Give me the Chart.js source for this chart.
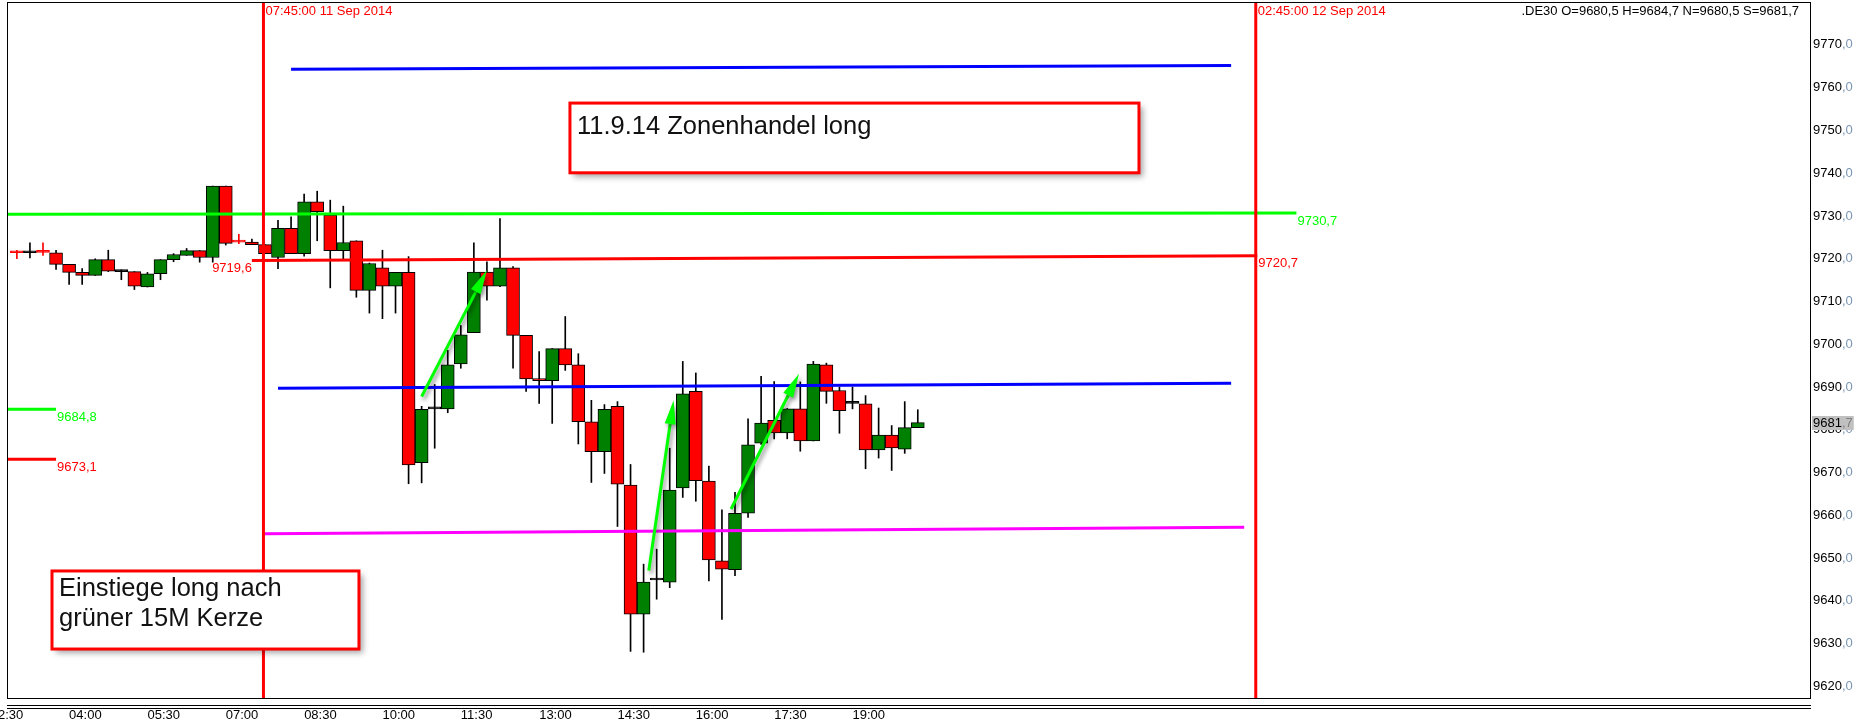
<!DOCTYPE html>
<html>
<head>
<meta charset="utf-8">
<title>DE30 M15</title>
<script src="https://cdn.jsdelivr.net/npm/chart.js@4.4.1/dist/chart.umd.min.js"></script>
<style>
  html, body { margin: 0; padding: 0; background: #fff; }
  #wrap { width: 1857px; height: 726px; }
</style>
</head>
<body>
<div id="wrap"><canvas id="chart" width="1857" height="726"></canvas></div>
<script>
'use strict';

// ---- data: .DE30 M15, 11 Sep 2014 ----
const times = ['03:00','03:15','03:30','03:45','04:00','04:15','04:30','04:45','05:00','05:15',
  '05:30','05:45','06:00','06:15','06:30','06:45','07:00','07:15','07:30','07:45',
  '08:00','08:15','08:30','08:45','09:00','09:15','09:30','09:45','10:00','10:15',
  '10:30','10:45','11:00','11:15','11:30','11:45','12:00','12:15','12:30','12:45',
  '13:00','13:15','13:30','13:45','14:00','14:15','14:30','14:45','15:00','15:15',
  '15:30','15:45','16:00','16:15','16:30','16:45','17:00','17:15','17:30','17:45',
  '18:00','18:15','18:30','18:45','19:00','19:15','19:30','19:45','20:00','20:15'];
const opens = [9721.5,9721.4,9721.6,9721.4,9718.7,9716.8,9716.1,9719.8,9717.0,9717.0,
  9713.4,9716.5,9719.8,9720.8,9721.9,9720.3,9737.0,9724.0,9723.9,9723.3,
  9720.3,9727.1,9721.2,9733.3,9730.2,9721.9,9724.2,9712.6,9717.9,9713.6,
  9716.8,9672.3,9684.9,9684.9,9695.4,9702.7,9716.9,9713.6,9717.9,9702.1,
  9691.9,9691.5,9699.0,9695.2,9681.9,9674.9,9685.5,9667.1,9636.9,9644.9,
  9644.4,9666.4,9689.0,9668.0,9649.4,9647.3,9660.5,9676.9,9682.2,9679.3,
  9684.9,9677.4,9695.2,9689.2,9686.2,9686.1,9675.3,9678.8,9675.5,9680.5];
const highs = [9722.0,9723.7,9723.7,9722.0,9718.7,9717.7,9720.0,9722.0,9717.4,9717.0,
  9716.8,9719.8,9721.2,9722.4,9721.9,9737.0,9737.0,9725.7,9724.6,9723.3,
  9729.0,9729.8,9735.1,9735.8,9733.7,9732.3,9724.2,9719.0,9722.0,9716.8,
  9720.5,9685.5,9690.6,9698.6,9704.4,9723.7,9719.3,9729.4,9718.2,9702.1,
  9698.3,9699.0,9706.5,9697.8,9686.9,9685.9,9686.6,9671.9,9648.6,9652.1,
  9675.7,9696.0,9693.3,9671.5,9661.3,9665.4,9682.6,9692.5,9691.3,9685.0,
  9691.2,9696.0,9695.6,9690.0,9690.0,9688.0,9685.1,9681.0,9686.6,9684.7];
const lows = [9720.0,9720.2,9720.8,9717.5,9714.0,9714.0,9716.1,9717.0,9715.1,9712.8,
  9713.4,9715.1,9719.3,9720.8,9719.2,9719.2,9723.2,9723.5,9723.3,9721.2,
  9717.7,9721.2,9720.6,9724.2,9713.2,9719.6,9711.0,9707.3,9706.0,9707.3,
  9667.4,9667.6,9675.7,9684.0,9694.4,9702.7,9710.3,9713.5,9694.4,9689.0,
  9686.2,9681.5,9693.9,9676.7,9667.7,9669.8,9657.4,9628.2,9628.0,9640.4,
  9643.1,9664.2,9663.3,9644.7,9635.7,9645.9,9659.5,9676.6,9677.9,9677.9,
  9675.0,9677.4,9686.2,9679.2,9684.9,9670.9,9673.4,9670.5,9674.5,9680.5];
const closes = [9721.4,9721.4,9721.5,9718.7,9716.8,9716.1,9719.8,9717.1,9717.0,9713.6,
  9716.5,9719.8,9721.0,9721.9,9720.3,9737.0,9723.6,9723.9,9723.3,9721.2,
  9727.1,9721.2,9733.3,9731.0,9721.9,9723.8,9712.6,9718.9,9713.6,9716.8,
  9671.8,9684.8,9684.9,9695.2,9702.2,9716.9,9713.6,9717.9,9702.1,9691.9,
  9691.5,9699.0,9695.2,9681.9,9674.9,9684.8,9667.3,9636.9,9644.4,9644.9,
  9665.9,9688.4,9668.1,9649.6,9647.4,9660.5,9676.5,9681.6,9679.3,9684.9,
  9677.4,9695.4,9689.0,9684.5,9686.2,9675.3,9678.8,9675.8,9680.5,9681.7];

const timeTicks = ['02:30','04:00','05:30','07:00','08:30','10:00','11:30','13:00','14:30','16:00','17:30','19:00'];
const priceStep = 10;
const priceMin = 9617.3, priceMax = 9779.8;

// 15-minute slots counted from 00:00 of 11 Sep
function slotOf(hhmm, day) {
  const [h, m] = hhmm.split(':').map(Number);
  return (day || 0) * 96 + (h * 60 + m) / 15;
}
const fmt = v => v.toFixed(1).replace('.', ',');

// ---- drawn objects on the chart ----
const vMarks = [
  { at: ['07:45', 0], text: '07:45:00 11 Sep 2014' },
  { at: ['02:45', 1], text: '02:45:00 12 Sep 2014' }
];
const levels = [
  { color: '#0000ff', from: ['08:15', 0], p1: 9764.3, to: ['02:15', 1], p2: 9765.2 },
  { color: '#00ff00', from: ['00:00', 0], p1: 9730.4, to: ['03:30', 1], p2: 9730.7, endLabel: true },
  { color: '#ff0000', from: ['07:30', 0], p1: 9719.6, to: ['02:45', 1], p2: 9720.7, startLabel: true, endLabel: true },
  { color: '#0000ff', from: ['08:00', 0], p1: 9689.7, to: ['02:15', 1], p2: 9690.9 },
  { color: '#ff00ff', from: ['07:45', 0], p1: 9655.7, to: ['02:30', 1], p2: 9657.2 },
  { color: '#00ff00', from: ['00:00', 0], p1: 9684.8, to: ['03:45', 0], p2: 9684.8, endLabel: true },
  { color: '#ff0000', from: ['00:00', 0], p1: 9673.1, to: ['03:45', 0], p2: 9673.1, endLabel: true }
];
const arrows = [
  [43.0, 9687.8, 48.0, 9717.3],
  [60.4, 9647.1, 62.3, 9686.9],
  [66.7, 9661.5, 71.9, 9693.1]
];
const notes = [
  { lines: ['11.9.14 Zonenhandel long'], x1: 54.36, p1: 9756.4, x2: 97.94, p2: 9740.1, first: 24 },
  { lines: ['Einstiege long nach', 'grüner 15M Kerze'], x1: 14.69, p1: 9647.0, x2: 38.2, p2: 9628.75, first: 18 }
];

const SANS = '"Liberation Sans", Arial, sans-serif';
const SMALL = '13px ' + SANS;
const GREEN = '#008000', RED = '#ff0000';

const slots = times.map(t => slotOf(t));
const isDoji = i => Math.abs(opens[i] - closes[i]) < 0.15;
const bodyColor = i => closes[i] > opens[i] ? GREEN : (closes[i] < opens[i] ? RED : '#000');
const edgeColor = i => isDoji(i) ? bodyColor(i) : '#000';

function noPad(s) { s.paddingLeft = s.paddingRight = s.paddingTop = s.paddingBottom = 0; }

const overlay = {
  id: 'overlay',
  afterDatasetsDraw(chart) {
    const { ctx, chartArea: a, scales: { x, y } } = chart;
    ctx.save();
    ctx.beginPath();
    ctx.rect(a.left, a.top, a.right - a.left, a.bottom - a.top);
    ctx.clip();

    // level / trend lines
    ctx.lineWidth = 3;
    ctx.font = SMALL;
    levels.forEach(l => {
      const x1 = x.getPixelForValue(slotOf(...l.from)), x2 = x.getPixelForValue(slotOf(...l.to));
      const y1 = y.getPixelForValue(l.p1), y2 = y.getPixelForValue(l.p2);
      ctx.strokeStyle = l.color;
      ctx.beginPath(); ctx.moveTo(x1, y1); ctx.lineTo(x2, y2); ctx.stroke();
      ctx.fillStyle = l.color;
      ctx.textBaseline = 'top';
      if (l.startLabel) { ctx.textAlign = 'right'; ctx.fillText(fmt(l.p1), x1, y1 + 1.5); }
      if (l.endLabel) { ctx.textAlign = 'left'; ctx.fillText(fmt(l.p2), x2 + 1, y2 + 1.5); }
    });

    // vertical time marks
    vMarks.forEach(m => {
      const px = x.getPixelForValue(slotOf(...m.at)) - 1.5;
      ctx.strokeStyle = RED; ctx.lineWidth = 3;
      ctx.beginPath(); ctx.moveTo(px, a.top); ctx.lineTo(px, a.bottom); ctx.stroke();
      ctx.fillStyle = RED; ctx.textAlign = 'left'; ctx.textBaseline = 'top';
      ctx.fillText(m.text, px + 2, a.top + 2);
    });

    // arrows
    ctx.save();
    ctx.shadowColor = 'rgba(0,0,0,0.45)';
    ctx.shadowBlur = 4; ctx.shadowOffsetX = 2; ctx.shadowOffsetY = 3;
    ctx.strokeStyle = '#00ff00'; ctx.fillStyle = '#00ff00'; ctx.lineWidth = 3;
    arrows.forEach(([s1, v1, s2, v2]) => {
      const x1 = x.getPixelForValue(s1), y1 = y.getPixelForValue(v1);
      const x2 = x.getPixelForValue(s2), y2 = y.getPixelForValue(v2);
      const ang = Math.atan2(y2 - y1, x2 - x1);
      const hl = 24, hw = 5.5;
      const bx = x2 - hl * Math.cos(ang), by = y2 - hl * Math.sin(ang);
      ctx.beginPath(); ctx.moveTo(x1, y1); ctx.lineTo(bx, by); ctx.stroke();
      ctx.beginPath();
      ctx.moveTo(x2, y2);
      ctx.lineTo(bx + hw * Math.sin(ang), by - hw * Math.cos(ang));
      ctx.lineTo(bx - hw * Math.sin(ang), by + hw * Math.cos(ang));
      ctx.closePath(); ctx.fill();
    });
    ctx.restore();

    // text boxes
    notes.forEach(n => {
      const l = x.getPixelForValue(n.x1), r = x.getPixelForValue(n.x2);
      const t = y.getPixelForValue(n.p1), b = y.getPixelForValue(n.p2);
      ctx.save();
      ctx.shadowColor = 'rgba(0,0,0,0.35)';
      ctx.shadowBlur = 6; ctx.shadowOffsetX = 4; ctx.shadowOffsetY = 4;
      ctx.fillStyle = '#fff';
      ctx.fillRect(l, t, r - l, b - t);
      ctx.restore();
      ctx.strokeStyle = RED; ctx.lineWidth = 3;
      ctx.strokeRect(l, t, r - l, b - t);
      ctx.fillStyle = '#111';
      ctx.font = '25.5px ' + SANS;
      ctx.textAlign = 'left'; ctx.textBaseline = 'middle';
      n.lines.forEach((s, i) => ctx.fillText(s, l + 7, t + n.first + i * 29.6));
    });
    ctx.restore();
  },
  afterDraw(chart) {
    const { ctx, chartArea: a, scales: { y } } = chart;
    ctx.save();
    // frame and separators
    ctx.strokeStyle = '#000'; ctx.lineWidth = 1;
    ctx.strokeRect(Math.round(a.left) - 0.5, Math.round(a.top) - 0.5, Math.round(a.right - a.left), Math.round(a.bottom - a.top) + 1);
    [7.5, 10.5].forEach(d => {
      ctx.beginPath(); ctx.moveTo(a.left - 1, a.bottom + d); ctx.lineTo(a.right, a.bottom + d); ctx.stroke();
    });
    // decimals on price labels
    ctx.font = SMALL;
    ctx.textBaseline = 'middle'; ctx.textAlign = 'left';
    const lx = y.left + 2;
    y.ticks.forEach(t => {
      const py = y.getPixelForValue(t.value);
      const w = ctx.measureText(String(t.value)).width;
      ctx.fillStyle = '#7a96b4';
      ctx.fillText(',0', lx + w, py);
    });
    // last price tag
    const last = closes[closes.length - 1];
    const py = Math.round(y.getPixelForValue(last));
    const ip = String(Math.floor(last)), dp = ',' + fmt(last).split(',')[1];
    const w1 = ctx.measureText(ip).width, w2 = ctx.measureText(dp).width;
    ctx.fillStyle = '#c0c0c0';
    ctx.fillRect(lx - 1, py - 7, w1 + w2 + 2, 14);
    ctx.fillStyle = '#000'; ctx.fillText(ip, lx, py);
    ctx.fillStyle = '#808080'; ctx.fillText(dp, lx + w1, py);
    // symbol header
    const n = closes.length - 1;
    ctx.fillStyle = '#000'; ctx.textAlign = 'right'; ctx.textBaseline = 'top';
    ctx.fillText('.DE30 O=' + fmt(opens[n]) + ' H=' + fmt(highs[n]) + ' N=' + fmt(lows[n]) + ' S=' + fmt(closes[n]), a.right - 12, a.top + 2);
    ctx.restore();
  }
};

new Chart(document.getElementById('chart').getContext('2d'), {
  type: 'bar',
  data: {
    datasets: [
      {
        label: 'body',
        data: slots.map((s, i) => ({ x: s, y: [opens[i], closes[i]] })),
        backgroundColor: times.map((t, i) => bodyColor(i)),
        borderColor: times.map((t, i) => edgeColor(i)),
        borderWidth: 1, borderSkipped: false, barThickness: 13, minBarLength: 2,
        grouped: false, order: 0
      },
      {
        label: 'wick',
        data: slots.map((s, i) => ({ x: s, y: [lows[i], highs[i]] })),
        backgroundColor: times.map((t, i) => edgeColor(i)),
        borderWidth: 0, barThickness: 1, grouped: false, order: 1
      }
    ]
  },
  options: {
    responsive: false, animation: false, devicePixelRatio: 1,
    layout: { padding: { left: 8, top: 3, right: 0, bottom: 0 } },
    plugins: { legend: { display: false }, tooltip: { enabled: false } },
    scales: {
      x: {
        type: 'linear', offset: false,
        min: 11.32, max: 149.41,
        afterBuildTicks: s => { s.ticks = timeTicks.map(t => ({ value: slotOf(t) })); },
        afterFit: s => { s.height = 28; noPad(s); },
        grid: { display: false, drawTicks: false }, border: { display: false },
        ticks: {
          autoSkip: false, maxRotation: 0, minRotation: 0, align: 'start', padding: 10,
          color: '#000', font: { family: SANS, size: 13 },
          callback: v => {
            const m = Math.round(v * 15);
            return String(Math.floor(m / 60) % 24).padStart(2, '0') + ':' + String(m % 60).padStart(2, '0');
          }
        }
      },
      y: {
        position: 'right', min: priceMin, max: priceMax,
        afterFit: s => { s.width = 46; noPad(s); },
        grid: { display: false, drawTicks: false }, border: { display: false },
        ticks: {
          stepSize: priceStep, includeBounds: false, padding: 2,
          color: '#000', font: { family: SANS, size: 13 },
          callback: v => String(v)
        }
      }
    }
  },
  plugins: [overlay]
});
</script>
</body>
</html>
